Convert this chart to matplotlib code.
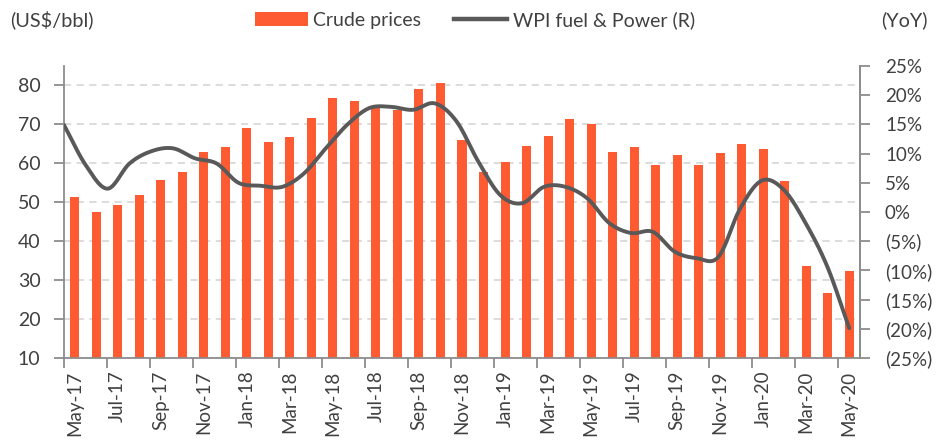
import numpy as np
import matplotlib
matplotlib.use("Agg")
import matplotlib.pyplot as plt
from matplotlib.patches import Patch
from matplotlib.lines import Line2D

plt.rcParams['font.family'] = ['Lato', 'DejaVu Sans']

months = ["May-17", "Jun-17", "Jul-17", "Aug-17", "Sep-17", "Oct-17", "Nov-17", "Dec-17",
          "Jan-18", "Feb-18", "Mar-18", "Apr-18", "May-18", "Jun-18", "Jul-18", "Aug-18",
          "Sep-18", "Oct-18", "Nov-18", "Dec-18", "Jan-19", "Feb-19", "Mar-19", "Apr-19",
          "May-19", "Jun-19", "Jul-19", "Aug-19", "Sep-19", "Oct-19", "Nov-19", "Dec-19",
          "Jan-20", "Feb-20", "Mar-20", "Apr-20", "May-20"]

crude = [51.4, 47.5, 49.2, 51.9, 55.6, 57.7, 62.8, 64.1,
         69.1, 65.6, 66.7, 71.7, 76.9, 75.9, 74.5, 73.6,
         79.1, 80.6, 65.9, 57.7, 60.3, 64.4, 66.9, 71.5,
         70.0, 62.9, 64.2, 59.5, 62.2, 59.7, 62.6, 65.0,
         63.6, 55.4, 33.6, 26.6, 32.3]

wpi = [14.9, 8.0, 4.0, 8.3, 10.4, 10.9, 9.2, 8.3,
       5.0, 4.5, 4.3, 6.6, 10.9, 15.0, 17.8, 18.0,
       17.5, 18.6, 15.5, 8.6, 2.9, 1.5, 4.3, 4.3,
       2.3, -1.9, -3.6, -3.4, -6.8, -7.9, -7.7, 0.6,
       5.4, 3.8, -1.9, -9.4, -19.9]

left_ticks = [10, 20, 30, 40, 50, 60, 70, 80]
right_ticks = [-25, -20, -15, -10, -5, 0, 5, 10, 15, 20, 25]


def pct_label(v):
    return f"({abs(v)}%)" if v < 0 else f"{v}%"


def catmull_rom(x, y, n=20):
    x = np.asarray(x, float)
    y = np.asarray(y, float)
    px = np.concatenate([[2 * x[0] - x[1]], x, [2 * x[-1] - x[-2]]])
    py = np.concatenate([[2 * y[0] - y[1]], y, [2 * y[-1] - y[-2]]])
    xs, ys = [], []
    t = np.linspace(0, 1, n, endpoint=False)
    for i in range(1, len(px) - 2):
        for arr, out in ((px, xs), (py, ys)):
            p0, p1, p2, p3 = arr[i - 1], arr[i], arr[i + 1], arr[i + 2]
            out.extend(0.5 * ((2 * p1) + (-p0 + p2) * t
                              + (2 * p0 - 5 * p1 + 4 * p2 - p3) * t ** 2
                              + (-p0 + 3 * p1 - 3 * p2 + p3) * t ** 3))
    xs.append(x[-1])
    ys.append(y[-1])
    return np.array(xs), np.array(ys)


text_c = "#404040"
spine_c = "#8c8c8c"
bar_c = "#FF5B33"
line_c = "#595959"

fig = plt.figure(figsize=(9.52, 4.46), dpi=100)
ax = fig.add_axes([64 / 952, 1 - 358 / 446, (860 - 64) / 952, (358 - 66) / 446])

n = len(months)
xb = np.arange(n)
ax.bar(xb, crude, width=0.42, color=bar_c, zorder=2)
ax.set_xlim(-0.5, n - 0.5)
ax.set_ylim(10, 85)
ax.set_yticks(left_ticks)
ax.set_yticklabels([str(v) for v in left_ticks])
ax.yaxis.grid(True, color="#d9d9d9", linestyle=(0, (4, 3)), linewidth=1.3)
ax.set_axisbelow(True)

ax.set_xticks(np.arange(0, n, 2) - 0.5)
ax.set_xticklabels([])
ax.set_xticks(np.arange(0, n, 2), minor=True)
ax.set_xticklabels(months[::2], minor=True, rotation=90)
ax.tick_params(axis="x", which="major", length=7, width=1.3, color=spine_c)
ax.tick_params(axis="x", which="minor", length=0, pad=9, labelsize=13.5, labelcolor=text_c)
ax.tick_params(axis="y", length=7, width=1.3, color=spine_c, labelsize=14, labelcolor=text_c, pad=10)

ax.spines["top"].set_visible(False)
for s in ["left", "bottom", "right"]:
    ax.spines[s].set_color(spine_c)
    ax.spines[s].set_linewidth(1.3)

ax2 = ax.twinx()
xl = np.linspace(-0.5, n - 1, n)
sx, sy = catmull_rom(xl, wpi)
ax2.plot(sx, sy, color=line_c, linewidth=2.8, solid_capstyle="round", zorder=3)
ax2.set_ylim(-25, 25)
ax2.set_yticks(right_ticks)
ax2.set_yticklabels([pct_label(v) for v in right_ticks])
ax2.tick_params(axis="y", length=7, width=1.3, color=spine_c, labelsize=13.5, labelcolor=text_c, pad=11)
ax2.spines["top"].set_visible(False)
ax2.spines["right"].set_color(spine_c)
ax2.spines["right"].set_linewidth(1.3)
ax2.spines["left"].set_visible(False)
ax2.spines["bottom"].set_visible(False)
ax2.set_xlim(-0.5, n - 0.5)

fig.text(10 / 952, 1 - 20 / 446, "(US$/bbl)", fontsize=14.3, color=text_c, va="center", ha="left")
fig.text(928 / 952, 1 - 20 / 446, "(YoY)", fontsize=14.3, color=text_c, va="center", ha="right")

handles = [Patch(facecolor=bar_c, edgecolor="none"),
           Line2D([0], [0], color=line_c, linewidth=3.2)]
fig.legend(handles, ["Crude prices", "WPI fuel & Power (R)"], loc="center",
           bbox_to_anchor=(475 / 952, 1 - 20 / 446), ncol=2, frameon=False,
           fontsize=14, labelcolor=text_c, handlelength=2.7, handleheight=0.7,
           columnspacing=1.7, handletextpad=0.3)

fig.savefig("out.png", dpi=100)
